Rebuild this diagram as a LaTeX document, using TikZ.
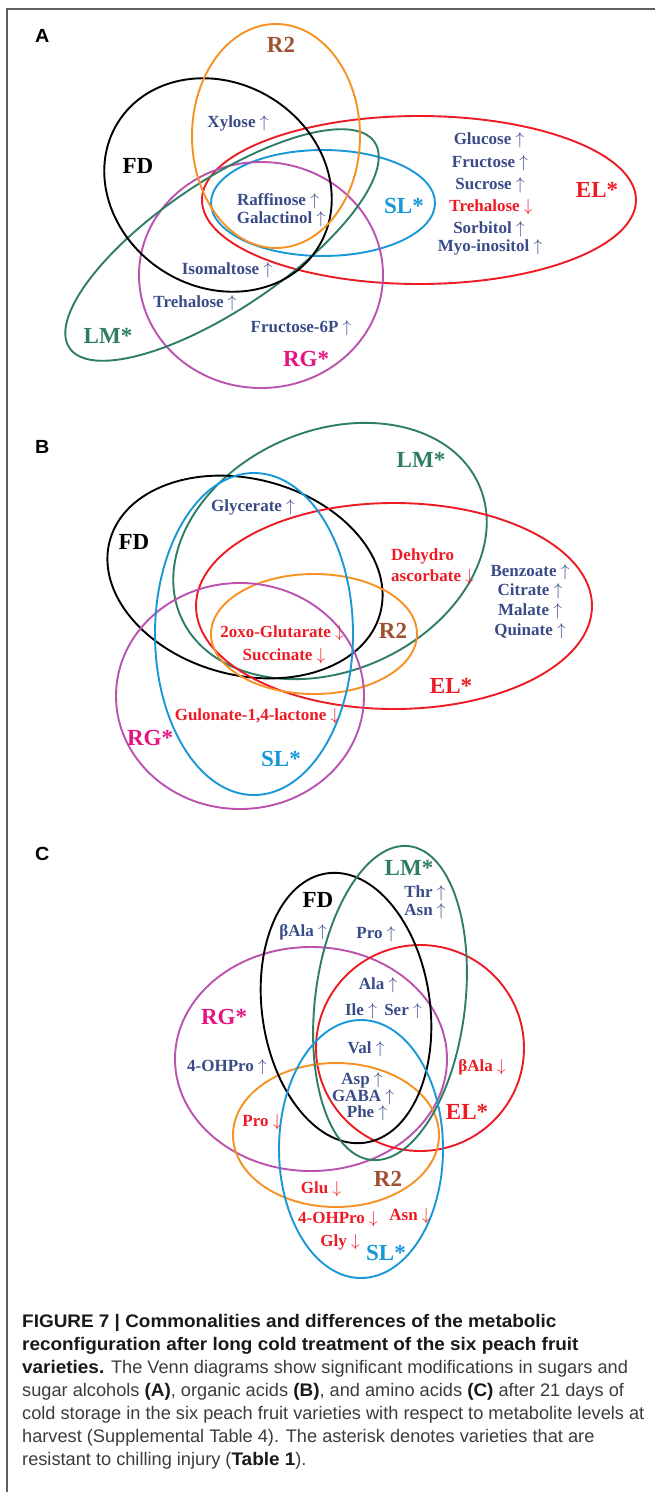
\documentclass[tikz,border=0pt]{standalone}
\usepackage{fontspec}
\setmainfont{Liberation Serif}
\newfontfamily\vf{Liberation Serif}
\newfontfamily\capf[BoldFeatures={FakeStretch=1.04}]{Liberation Sans}
\newcommand{\U}{\ $\uparrow$}
\newcommand{\D}{\ $\downarrow$}
\definecolor{iblue}{RGB}{58,76,136}
\definecolor{ired}{RGB}{237,28,36}
\definecolor{brn}{RGB}{158,80,48}
\definecolor{orng}{RGB}{247,145,35}
\definecolor{grn}{RGB}{46,125,100}
\definecolor{skyb}{RGB}{25,152,215}
\definecolor{elred}{RGB}{237,28,36}
\definecolor{rgell}{RGB}{186,82,175}
\definecolor{rglab}{RGB}{228,20,130}
\definecolor{frame}{RGB}{95,95,95}
\definecolor{captxt}{RGB}{60,60,60}
\tikzset{
  ell/.style={line width=1.9pt},
  item/.style={inner sep=0pt, font=\vf\bfseries\fontsize{17}{21}\selectfont, text=iblue},
  ritem/.style={item, text=ired},
  lab/.style={inner sep=0pt, font=\vf\bfseries\fontsize{23}{25}\selectfont},
  panel/.style={inner sep=0pt, anchor=west, font=\capf\bfseries\fontsize{19}{21}\selectfont},
}
\begin{document}
\begin{tikzpicture}[x=1pt,y=-1pt]
\useasboundingbox (0,0) rectangle (655,1492);
\fill[white] (0,0) rectangle (655,1492);
\draw[frame, line width=1.4pt] (655,9) -- (7,9) -- (7,1492);

% ---------- Panel A ----------
\node[panel] (pA) at (35,36) {A};
\draw[ell, elred, shift={(419,200)}] (0,0) ellipse [x radius=217, y radius=84];
\draw[ell, skyb, shift={(323,203)}] (0,0) ellipse [x radius=112, y radius=53];
\draw[ell, rgell, shift={(261,275)}] (0,0) ellipse [x radius=122, y radius=113];
\draw[ell, grn, shift={(222,245)}, rotate=34] (0,0) ellipse [x radius=184, y radius=64];
\draw[ell, black, shift={(218,185)}, rotate=-32] (0,0) ellipse [x radius=118, y radius=102];
\draw[ell, orng, shift={(276,136)}] (0,0) ellipse [x radius=84, y radius=112];

\node[lab, text=brn] (aR2) at (281,45) {R2};
\node[lab, text=black] (aFD) at (138,166) {FD};
\node[lab, text=skyb] (aSL) at (404,206) {SL*};
\node[lab, text=elred] (aEL) at (597,190) {EL*};
\node[lab, text=grn] (aLM) at (108,336) {LM*};
\node[lab, text=rglab] (aRG) at (306,359) {RG*};

\node[item] (a1) at (238,123) {Xylose\U};
\node[item] (a2) at (489,140) {Glucose\U};
\node[item] (a3) at (490,163) {Fructose\U};
\node[item] (a4) at (490,185) {Sucrose\U};
\node[ritem] (a5) at (491,207) {Trehalose\D};
\node[item] (a6) at (489,229) {Sorbitol\U};
\node[item] (a7) at (490,247) {Myo-inositol\U};
\node[item] (a8) at (278,201) {Raffinose\U};
\node[item] (a9) at (281,219) {Galactinol\U};
\node[item] (a10) at (227,270) {Isomaltose\U};
\node[item] (a11) at (195,303) {Trehalose\U};
\node[item] (a12) at (301,328) {Fructose-6P\U};

% ---------- Panel B ----------
\node[panel] (pB) at (35,447) {B};
\draw[ell, grn, shift={(330,551)}, rotate=24] (0,0) ellipse [x radius=163, y radius=120];
\draw[ell, black, shift={(245,577)}, rotate=-15] (0,0) ellipse [x radius=140, y radius=98];
\draw[ell, elred, shift={(394,606)}] (0,0) ellipse [x radius=198, y radius=103];
\draw[ell, orng, shift={(314,634)}] (0,0) ellipse [x radius=103, y radius=60];
\draw[ell, rgell, shift={(240,696)}] (0,0) ellipse [x radius=124, y radius=113];
\draw[ell, skyb, shift={(254,634)}] (0,0) ellipse [x radius=99, y radius=161];

\node[lab, text=grn] (bLM) at (421,460) {LM*};
\node[lab, text=black] (bFD) at (134,542) {FD};
\node[lab, text=brn] (bR2) at (393,631) {R2};
\node[lab, text=elred] (bEL) at (451,686) {EL*};
\node[lab, text=rglab] (bRG) at (150,738) {RG*};
\node[lab, text=skyb] (bSL) at (281,759) {SL*};

\node[item] (b1) at (253,507) {Glycerate\U};
\node[ritem, anchor=west, align=left] (b2) at (391,567) {Dehydro\\ascorbate\D};
\node[item] (b3) at (530,572) {Benzoate\U};
\node[item] (b4) at (530,591) {Citrate\U};
\node[item] (b5) at (530,611) {Malate\U};
\node[item] (b6) at (530,631) {Quinate\U};
\node[ritem] (b7) at (282,633) {2oxo-Glutarate\D};
\node[ritem] (b8) at (284,656) {Succinate\D};
\node[ritem] (b9) at (257,716) {Gulonate-1,4-lactone\D};

% ---------- Panel C ----------
\node[panel] (pC) at (35,854) {C};
\draw[ell, rgell, shift={(311,1059)}] (0,0) ellipse [x radius=136, y radius=112];
\draw[ell, elred, shift={(420,1048)}] (0,0) ellipse [x radius=104, y radius=103];
\draw[ell, orng, shift={(336,1135)}] (0,0) ellipse [x radius=103, y radius=72];
\draw[ell, black, shift={(346,1008)}, rotate=8] (0,0) ellipse [x radius=84, y radius=136];
\draw[ell, grn, shift={(390,1003)}, rotate=-7] (0,0) ellipse [x radius=75, y radius=158];
\draw[ell, skyb, shift={(361,1149)}] (0,0) ellipse [x radius=82, y radius=129];

\node[lab, text=grn] (cLM) at (409,868) {LM*};
\node[lab, text=black] (cFD) at (318,900) {FD};
\node[lab, text=rglab] (cRG) at (224,1017) {RG*};
\node[lab, text=elred] (cEL) at (467,1112) {EL*};
\node[lab, text=brn] (cR2) at (388,1179) {R2};
\node[lab, text=skyb] (cSL) at (386,1253) {SL*};

\node[item] (c1) at (425,893) {Thr\U};
\node[item] (c2) at (425,911) {Asn\U};
\node[item] (c3) at (303,932) {βAla\U};
\node[item] (c4) at (376,934) {Pro\U};
\node[item] (c5) at (378,985) {Ala\U};
\node[item] (c6) at (361,1011) {Ile\U};
\node[item] (c7) at (403,1011) {Ser\U};
\node[item] (c8) at (366,1049) {Val\U};
\node[item] (c9) at (227,1067) {4-OHPro\U};
\node[ritem] (c10) at (482,1067) {βAla\D};
\node[item] (c11) at (362,1080) {Asp\U};
\node[item] (c12) at (363,1097) {GABA\U};
\node[item] (c13) at (367,1113) {Phe\U};
\node[ritem] (c14) at (262,1122) {Pro\D};
\node[ritem] (c15) at (321,1189) {Glu\D};
\node[ritem] (c16) at (338,1219) {4-OHPro\D};
\node[ritem] (c17) at (410,1216) {Asn\D};
\node[ritem] (c18) at (340,1242) {Gly\D};

% ---------- Caption ----------
\node[anchor=north west, inner sep=0pt, align=left, text=captxt,
      font=\capf\fontsize{18.2}{23}\selectfont] (cap) at (22,1314)
{\textcolor{black!90}{\textbf{FIGURE 7 \textbar\ Commonalities and differences of the metabolic}}\\
\textcolor{black!90}{\textbf{reconfiguration after long cold treatment of the six peach fruit}}\\
\textcolor{black!90}{\textbf{varieties.}} The Venn diagrams show significant modifications in sugars and\\
sugar alcohols \textcolor{black!90}{\textbf{(A)}}, organic acids \textcolor{black!90}{\textbf{(B)}}, and amino acids \textcolor{black!90}{\textbf{(C)}} after 21 days of\\
cold storage in the six peach fruit varieties with respect to metabolite levels at\\
harvest (Supplemental Table 4). The asterisk denotes varieties that are\\
resistant to chilling injury (\textcolor{black!90}{\textbf{Table 1}}).};
\end{tikzpicture}
\end{document}
